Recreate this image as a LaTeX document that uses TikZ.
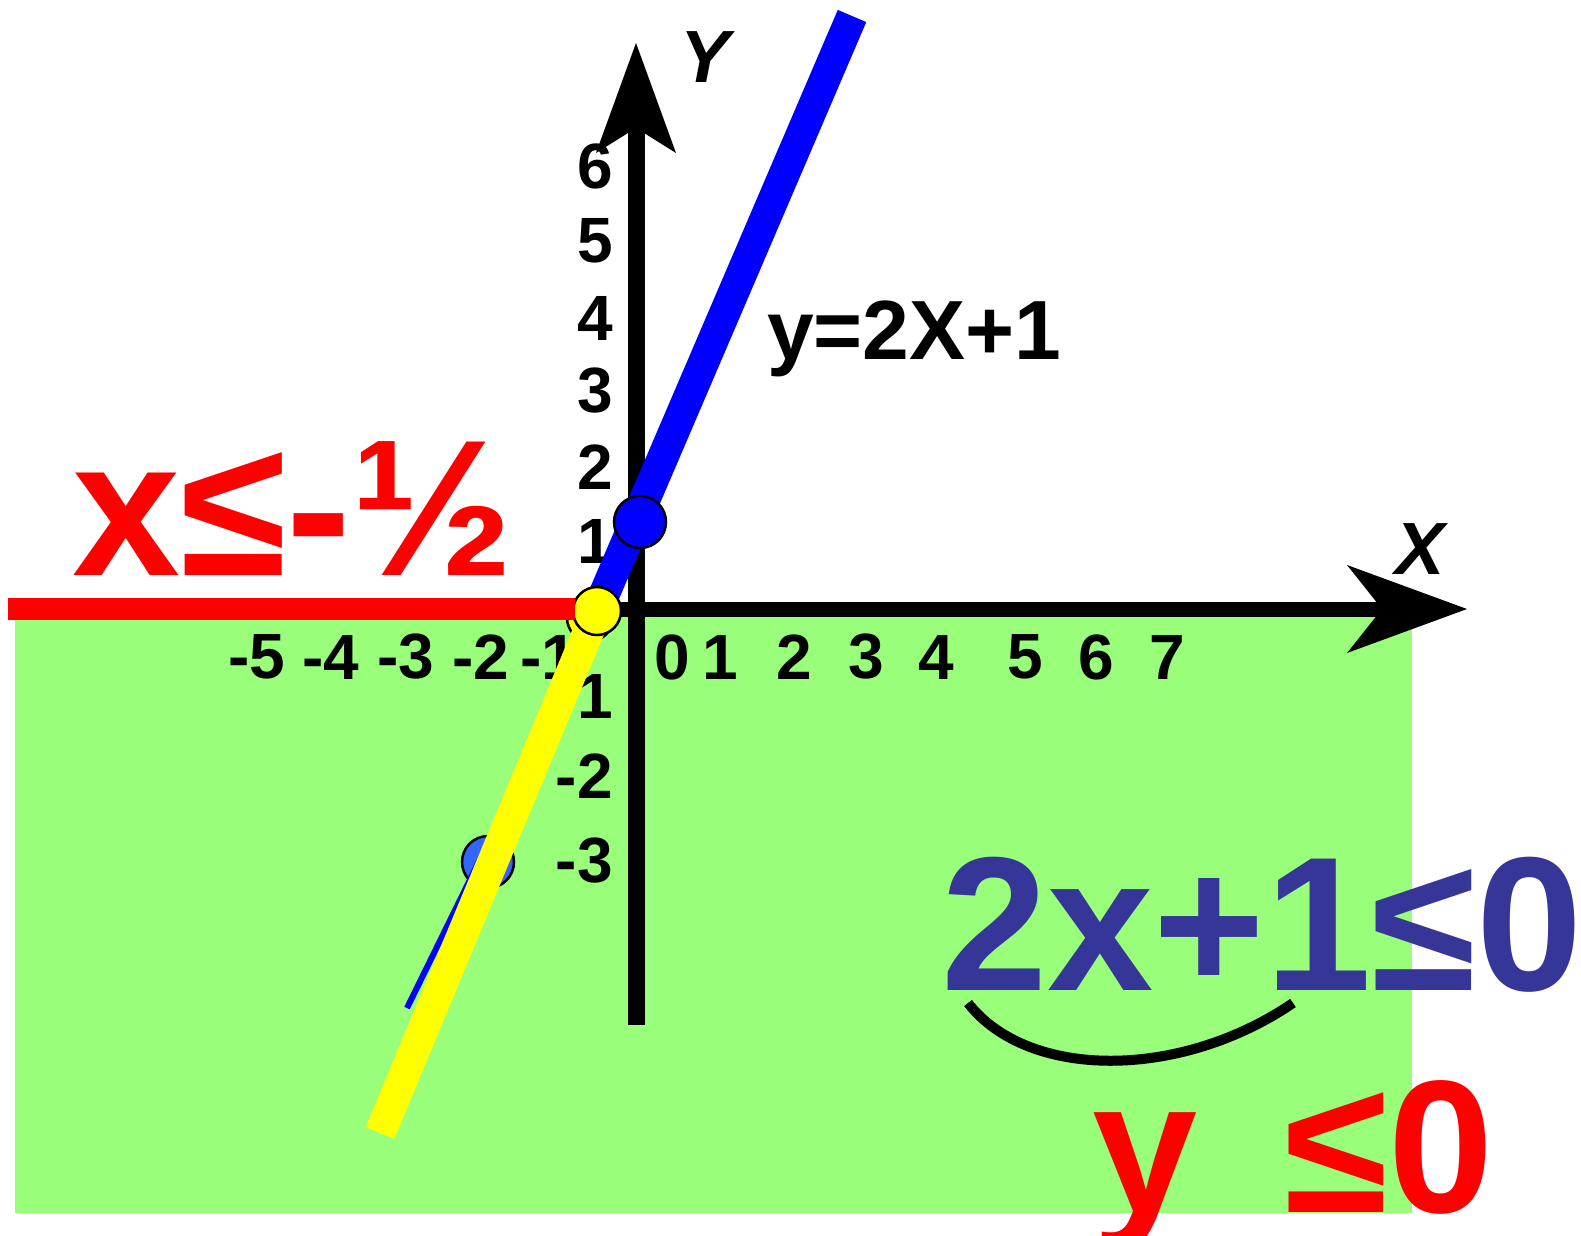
\documentclass[tikz,border=0pt]{standalone}
\usepackage{fontspec}
\setmainfont{Liberation Sans}
\usetikzlibrary{arrows.meta}
\definecolor{regionGreen}{RGB}{153,255,122}
\definecolor{lineBlue}{RGB}{0,0,255}
\definecolor{dotBlue}{RGB}{51,102,255}
\definecolor{lineYellow}{RGB}{255,255,0}
\definecolor{ineqRed}{RGB}{255,0,0}
\definecolor{ineqBlue}{RGB}{54,54,153}
\newcommand{\pxfont}[1]{\fontsize{#1}{#1}\selectfont\bfseries}

\begin{document}
\begin{tikzpicture}[x=1pt,y=-1pt,
    tick/.style={inner sep=0pt, font=\pxfont{64}},
    axislabel/.style={inner sep=0pt, font=\pxfont{74}\itshape},
    bigtext/.style={inner sep=0pt, anchor=base west},
    dot/.style={circle, draw=black, line width=2.5pt, inner sep=0pt}]
  \useasboundingbox (0,0) rectangle (1581,1235);

  % region y <= 0
  \fill[regionGreen] (15,617) rectangle (1412,1213);

  % tick labels
  \foreach \v/\px in {-5/257,-4/331,-3/406,-2/481,-1/549,0/672,1/720,2/794,3/866,4/936,5/1025,6/1096,7/1167}
    \node[tick] (xt\v) at (\px,657) {\v};
  \foreach \v/\py in {6/166,5/241,4/318,3/391,2/467,1/541,-1/696,-2/776,-3/860}
    \node[tick, anchor=east] (yt\v) at (613,\py) {\v};

  % axes
  \coordinate (xstart) at (575,609);
  \coordinate (xtip) at (1467,609);
  \coordinate (ystart) at (636,1025);
  \coordinate (ytip) at (636,43);
  \draw[line width=15pt, -{Stealth[length=120pt, width=88pt, inset=35pt, line width=0pt]}]
    (xstart) -- (xtip);
  \draw[line width=17pt, -{Stealth[length=110pt, width=80pt, inset=25pt, line width=0pt]}]
    (ystart) -- (ytip);
  \node[axislabel] (xlabel) at (1420,549) {X};
  \node[axislabel] (ylabel) at (705,57) {Y};

  % y=2x+1 and its part below the x axis
  \coordinate (ltop) at (852,16);
  \coordinate (root) at (597,611);
  \coordinate (yint) at (640,522);
  \coordinate (lowpt) at (488,862);
  \draw[lineBlue, line width=31pt] (ltop) -- (root);
  \node[dot, fill=dotBlue, minimum size=52pt] (dotlow) at (lowpt) {};
  \draw[lineBlue, line width=6pt] (600,615) -- (407,1008) coordinate (lend);
  \node[dot, fill=lineYellow, minimum size=46pt] (dotghost) at (590,618) {};
  \draw[lineYellow, line width=31pt] (root) -- (380,1133) coordinate (yend);
  \node[dot, fill=lineYellow, minimum size=48pt] (dotroot) at (root) {};
  \node[dot, fill=lineBlue, minimum size=52pt] (dotint) at (yint) {};

  % ray x <= -1/2
  \draw[ineqRed, line width=22pt] (8,609) coordinate (raystart) -- (575,609) coordinate (rayend);

  % texts
  \node[bigtext, font=\pxfont{84}] (eqline) at (767,359) {y=2X+1};
  \node[bigtext, ineqRed, font=\pxfont{194}] (xsol) at (72,575) {x≤-½};
  \node[bigtext, ineqBlue, font=\pxfont{191}] (ineq) at (941,990) {2x+1≤0};
  \node[bigtext, ineqRed, font=\pxfont{189}] (ysol) at (1092,1212) {y\hspace{0.46em}≤0};
  \draw[line width=10pt] (968,1003) .. controls (1028,1080) and (1180,1080) .. (1293,1003);
\end{tikzpicture}
\end{document}
